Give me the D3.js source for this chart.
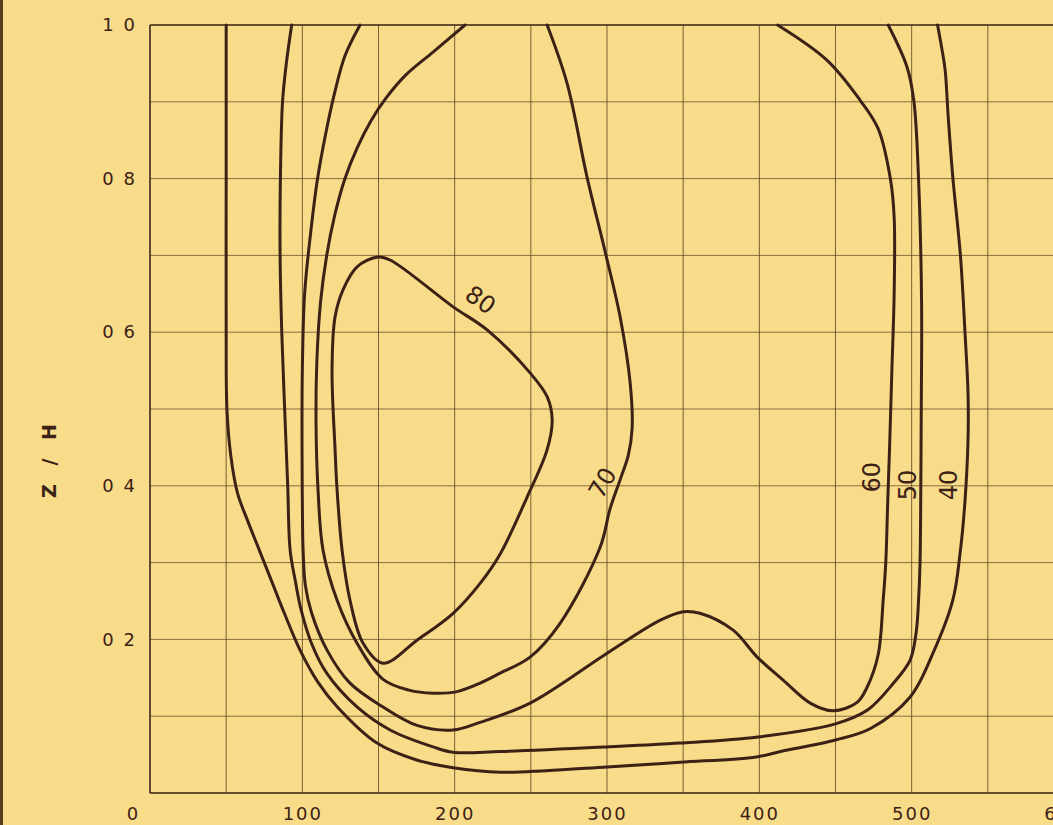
<!DOCTYPE html>
<html>
<head>
<meta charset="utf-8">
<script src="https://cdn.jsdelivr.net/npm/d3@7"></script>
<style>
  html, body { margin: 0; padding: 0; background: #f9dc8a; }
  svg { display: block; }
</style>
</head>
<body>
<div id="chart"></div>
<script>
// axis ticks
var xTicks = [0, 100, 200, 300, 400, 500, 600];
var yTicks = [0.2, 0.4, 0.6, 0.8, 1.0];
var xGrid = [50, 100, 150, 200, 250, 300, 350, 400, 450, 500, 550, 600];
var yGrid = [0.1, 0.2, 0.3, 0.4, 0.5, 0.6, 0.7, 0.8, 0.9];

// contour lines, [x, z/h]
var c40 = [[50,1.0],[50,0.8],[50,0.6],[50.5,0.5],[53,0.44],[57.5,0.39],[64,0.355],[72,0.315],[81,0.27],
  [88,0.235],[98.5,0.186],[110,0.145],[123,0.112],[149,0.065],[175,0.043],[199,0.033],[230,0.027],
  [260,0.029],[300,0.034],[348,0.04],[398,0.047],[414,0.054],[450,0.069],[473,0.084],[499,0.125],[514,0.182],
  [527,0.251],[532,0.316],[535,0.38],[537,0.46],[537,0.52],[535,0.6],[532,0.7],[527,0.802],[524,0.88],
  [522,0.941],[520,0.967],[517,1.0]];
var c50 = [[93,1.0],[89.5,0.95],[87,0.9],[85.6,0.8],[85.4,0.7],[86.5,0.6],[88.4,0.5],[90.4,0.4],[92,0.316],
  [95.5,0.275],[99,0.24],[106,0.195],[116,0.156],[135.9,0.112],[157.6,0.082],[185.8,0.06],[199,0.053],
  [230,0.054],[300,0.06],[348,0.065],[399,0.073],[450,0.09],[471,0.108],[488,0.143],[499,0.173],[503,0.21],
  [504.5,0.25],[505.5,0.3],[506,0.4],[506.3,0.5],[506.5,0.64],[504.5,0.8],[501.5,0.9],[497,0.945],[484.6,1.0]];
var c60 = [[137.9,1.0],[128,0.96],[121,0.91],[115.5,0.86],[110,0.8],[105.5,0.73],[101.5,0.65],[100,0.55],
  [99.8,0.45],[100,0.38],[100.5,0.316],[102,0.27],[106,0.235],[116.2,0.186],[131.3,0.143],[153,0.112],
  [175.3,0.088],[199,0.082],[216.7,0.092],[249.5,0.117],[300.1,0.182],[335,0.225],[350,0.236],[361,0.234],
  [382.8,0.212],[398.6,0.177],[415.6,0.147],[433.4,0.117],[448.5,0.107],[464.2,0.118],[470.8,0.138],
  [478,0.18],[481.3,0.251],[483,0.3],[484.3,0.38],[485.5,0.45],[487,0.55],[488.5,0.65],[488.5,0.75],
  [486,0.8],[478,0.865],[466.2,0.902],[444.5,0.954],[412,1.0]];
var c70 = [[206.8,1.0],[186,0.965],[168,0.935],[155,0.905],[145,0.875],[136,0.84],[128,0.8],[121,0.75],
  [116,0.7],[112,0.64],[109.5,0.56],[109,0.48],[110.3,0.395],[113.6,0.316],[122.8,0.251],[135.9,0.195],
  [153,0.148],[170,0.134],[185.8,0.130],[201.6,0.132],[216.7,0.143],[229.8,0.156],[249.5,0.177],[269.2,0.221],
  [295.5,0.32],[302,0.37],[309,0.41],[314,0.44],[316.5,0.475],[315.2,0.534],[308.6,0.62],[299,0.703],
  [286.9,0.802],[273.8,0.924],[260.7,1.0]];
var c80 = [[149.7,0.698],[157.6,0.694],[199,0.633],[221.3,0.603],[249.5,0.547],[260.7,0.516],[264,0.486],
  [260.7,0.447],[247.5,0.385],[229.8,0.311],[216.7,0.273],[199,0.234],[175.3,0.199],[153,0.169],[139.9,0.195],
  [131.3,0.251],[126.1,0.316],[122.8,0.395],[121.5,0.447],[119.5,0.551],[121.5,0.62],[126.7,0.655],[135.9,0.685]];

var levels = [40, 50, 60, 70, 80];
var lines = [c40, c50, c60, c70, c80];

// contour labels
var labelText = ["80", "70", "60", "50", "40"];
var labelX = [217, 297, 474, 497, 524];
var labelZ = [0.642, 0.404, 0.411, 0.401, 0.401];
var labelAngle = [35, -60, -90, -90, -90];

var width = 1053, height = 825;
var ink = "#3b2116";

var svg = d3.select("#chart").append("svg")
  .attr("width", width)
  .attr("height", height)
  .style("background", "#f9dc8a");

var x = d3.scaleLinear().domain([0, 600]).range([150, 1064]);
var y = d3.scaleLinear().domain([0, 1]).range([793, 25]);

// paper edge
svg.append("rect").attr("x", 0).attr("y", 0).attr("width", 3).attr("height", height).attr("fill", "#5a3a1c");

// grid
svg.append("g").selectAll("line").data(xGrid).enter().append("line")
  .attr("x1", function(d) { return x(d); }).attr("x2", function(d) { return x(d); })
  .attr("y1", y(1)).attr("y2", y(0))
  .attr("stroke", "#5a4020").attr("stroke-width", 1).attr("opacity", 0.8);
svg.append("g").selectAll("line").data(yGrid).enter().append("line")
  .attr("x1", x(0)).attr("x2", width)
  .attr("y1", function(d) { return y(d); }).attr("y2", function(d) { return y(d); })
  .attr("stroke", "#5a4020").attr("stroke-width", 1).attr("opacity", 0.7);

// frame (left, bottom, top)
svg.append("line").attr("x1", x(0)).attr("x2", x(0)).attr("y1", y(1)).attr("y2", y(0))
  .attr("stroke", ink).attr("stroke-width", 1.6);
svg.append("line").attr("x1", x(0)).attr("x2", width).attr("y1", y(0)).attr("y2", y(0))
  .attr("stroke", ink).attr("stroke-width", 1.6);
svg.append("line").attr("x1", x(0)).attr("x2", width).attr("y1", y(1)).attr("y2", y(1))
  .attr("stroke", ink).attr("stroke-width", 1.6);

// axes
var xAxis = svg.append("g")
  .attr("transform", "translate(0," + y(0) + ")")
  .call(d3.axisBottom(x).tickValues(xTicks).tickSize(0).tickPadding(11).tickFormat(d3.format("d")));
xAxis.select(".domain").remove();
xAxis.selectAll("text")
  .attr("dx", function(d) { return d === 0 ? -17 : 0; })
  .attr("dy", "0.9em");

var yAxis = svg.append("g")
  .attr("transform", "translate(" + x(0) + ",0)")
  .call(d3.axisLeft(y).tickValues(yTicks).tickSize(0).tickPadding(13)
    .tickFormat(function(d) { return d.toFixed(1).replace(".", " "); }));
yAxis.select(".domain").remove();

svg.selectAll(".tick text")
  .attr("fill", ink)
  .style("font-family", "'DejaVu Sans', sans-serif")
  .style("font-size", "18px")
  .style("letter-spacing", "2px");

svg.append("text")
  .attr("transform", "translate(56,458) rotate(-90)")
  .attr("text-anchor", "middle")
  .attr("fill", ink)
  .style("font-family", "'DejaVu Sans', sans-serif")
  .style("font-size", "19px")
  .style("font-weight", "bold")
  .style("letter-spacing", "6px")
  .text("Z / H");

// contours
var line = d3.line()
  .x(function(d) { return x(d[0]); })
  .y(function(d) { return y(d[1]); })
  .curve(d3.curveCatmullRom.alpha(0.5));
var closedLine = d3.line()
  .x(function(d) { return x(d[0]); })
  .y(function(d) { return y(d[1]); })
  .curve(d3.curveCatmullRomClosed.alpha(0.5));

svg.append("g").selectAll("path").data(lines).enter().append("path")
  .attr("d", function(d, i) { return levels[i] === 80 ? closedLine(d) : line(d); })
  .attr("fill", "none")
  .attr("stroke", ink)
  .attr("stroke-width", 3)
  .attr("stroke-linejoin", "round")
  .attr("stroke-linecap", "round");

svg.append("g").selectAll("text").data(labelText).enter().append("text")
  .attr("transform", function(d, i) {
    return "translate(" + x(labelX[i]) + "," + y(labelZ[i]) + ") rotate(" + labelAngle[i] + ")";
  })
  .attr("text-anchor", "middle")
  .attr("dy", "0.35em")
  .attr("fill", ink)
  .style("font-family", "'DejaVu Sans', sans-serif")
  .style("font-size", "24px")
  .text(function(d) { return d; });
</script>
</body>
</html>
